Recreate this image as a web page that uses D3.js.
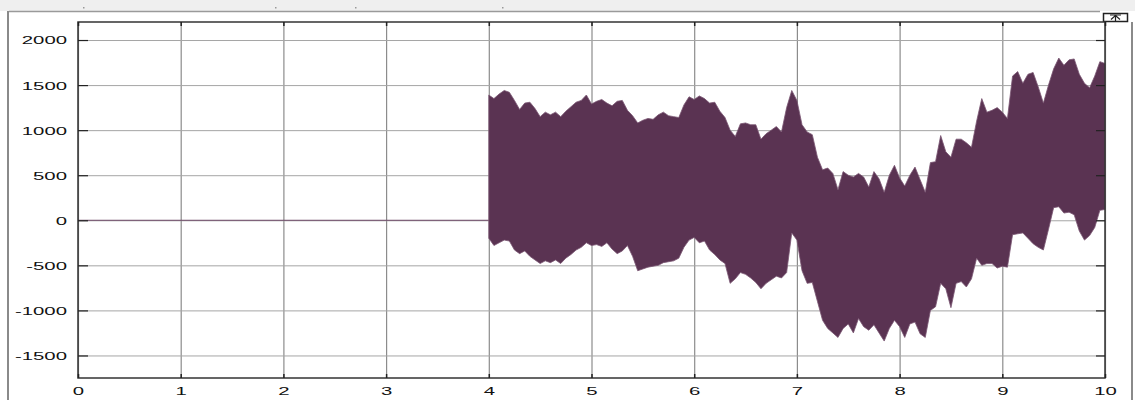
<!DOCTYPE html>
<html><head><meta charset="utf-8">
<script src="https://cdn.jsdelivr.net/npm/d3@7"></script>
<style>
html,body{margin:0;padding:0;background:#fff;}
svg{display:block;}
</style></head>
<body><svg id="c" width="1135" height="400"></svg>
<script>
// ---- data ----
const xTicks = [0,1,2,3,4,5,6,7,8,9,10];
const yTicks = [-1500,-1000,-500,0,500,1000,1500,2000];
const yTickLabels = ["-1500","-1000","-500","0","500","1000","1500","2000"];
const xDomain = [0,10];
const yDomain = [-1750,2200];
// silent segment (value 0) before the signal starts
const silentTimes = [0,4];
const silentValues = [0,0];
// signal envelope, sampled every 0.05 s from 4.00 to 10.00
const envTimes = d3.range(121).map(i => +(4 + i*0.05).toFixed(2));
const envUpper = [1390,1350,1400,1440,1420,1330,1230,1300,1310,1240,
 1150,1200,1170,1200,1150,1210,1260,1310,1330,1390,
 1290,1320,1340,1300,1270,1320,1330,1220,1160,1080,
 1110,1130,1120,1170,1200,1160,1150,1140,1280,1370,
 1340,1380,1350,1300,1310,1210,1140,1000,930,1070,
 1080,1060,1060,900,960,1000,1040,980,1250,1440,
 1330,1060,980,950,700,560,580,520,340,540,
 500,480,520,480,370,540,460,310,500,610,
 470,380,500,590,450,310,640,650,940,760,
 700,900,900,860,810,1100,1350,1200,1220,1250,
 1200,1130,1600,1650,1520,1620,1640,1480,1300,1500,
 1680,1800,1720,1780,1790,1620,1520,1470,1600,1760,
 1740];
const envLower = [-200,-280,-250,-220,-230,-330,-370,-340,-400,-440,
 -480,-450,-470,-440,-480,-420,-380,-330,-300,-250,
 -280,-270,-290,-250,-320,-370,-340,-280,-400,-560,
 -540,-520,-510,-500,-470,-460,-450,-420,-300,-220,
 -190,-250,-230,-330,-380,-440,-480,-700,-650,-580,
 -600,-640,-690,-760,-700,-660,-620,-640,-580,-140,
 -220,-560,-700,-690,-900,-1110,-1200,-1250,-1300,-1200,
 -1150,-1250,-1090,-1180,-1220,-1160,-1250,-1340,-1200,-1110,
 -1180,-1300,-1150,-1130,-1260,-1300,-1000,-960,-700,-760,
 -970,-700,-680,-740,-650,-420,-500,-480,-480,-530,
 -510,-520,-160,-150,-140,-200,-260,-300,-330,-100,
 140,150,80,90,60,-120,-220,-170,-80,110,
 120];

// ---- layout ----
const svg = d3.select("#c");
const L = 78, R = 1105, T = 22, B = 378;
const x = d3.scaleLinear().domain(xDomain).range([L, R]);
const y = d3.scaleLinear().domain(yDomain).range([B, T]);
const SX = 1.85; // horizontal stretch of the tick labels

// window chrome
svg.append("rect").attr("x",0).attr("y",0).attr("width",1135).attr("height",11).attr("fill","#efefef");
svg.append("line").attr("x1",9).attr("x2",1100).attr("y1",11.5).attr("y2",11.5).attr("stroke","#9a9a9a").attr("stroke-width",1.5);
svg.append("line").attr("x1",8).attr("x2",8).attr("y1",11).attr("y2",400).attr("stroke","#8a8a8a").attr("stroke-width",2);
svg.append("line").attr("x1",1132).attr("x2",1132).attr("y1",22).attr("y2",400).attr("stroke","#8a8a8a").attr("stroke-width",2);
[83,275,355,502].forEach(px => svg.append("rect").attr("x",px).attr("y",7).attr("width",1.5).attr("height",1.5).attr("fill","#999"));
// small button at top right
const btn = svg.append("g");
btn.append("rect").attr("x",1103.5).attr("y",13.5).attr("width",24).attr("height",8).attr("fill","#fff").attr("stroke","#222").attr("stroke-width",1.5);
btn.append("path").attr("d","M1111,19.5 L1115.5,15.5 L1120,19.5 M1115.5,15.5 L1115.5,21 M1110,15 L1121,15").attr("fill","none").attr("stroke","#222").attr("stroke-width",1.2);

// plot background
svg.append("rect").attr("x",L).attr("y",T).attr("width",R-L).attr("height",B-T).attr("fill","#fff");

// grid
svg.append("g").attr("transform",`translate(0,${B})`)
  .call(d3.axisBottom(x).tickValues(xTicks).tickSize(-(B-T)).tickFormat(""))
  .call(g => g.select(".domain").remove())
  .call(g => g.selectAll("line").attr("stroke","#8c8c8c").attr("stroke-width",1.2));
svg.append("g").attr("transform",`translate(${L},0)`)
  .call(d3.axisLeft(y).tickValues(yTicks).tickSize(-(R-L)).tickFormat(""))
  .call(g => g.select(".domain").remove())
  .call(g => g.selectAll("line").attr("stroke","#a5a5a5").attr("stroke-width",1));

// silent zero line
svg.append("path")
  .datum(silentTimes.map((t,i)=>[t,silentValues[i]]))
  .attr("d", d3.line().x(d=>x(d[0])).y(d=>y(d[1])))
  .attr("fill","none").attr("stroke","#6d4866").attr("stroke-width",1);

// signal envelope
const env = envTimes.map((t,i)=>({t, hi: envUpper[i], lo: envLower[i]}));
const area = d3.area().x(d=>x(d.t)).y0(d=>y(d.lo)).y1(d=>y(d.hi)).curve(d3.curveLinear);
svg.append("path").datum(env).attr("d", area)
  .attr("fill","#5a3352").attr("stroke","#7a5572").attr("stroke-width",0.8);

// frame
svg.append("rect").attr("x",L).attr("y",T).attr("width",R-L).attr("height",B-T)
  .attr("fill","none").attr("stroke","#333").attr("stroke-width",1.5);

// y axis left
svg.append("g").attr("transform",`translate(${L},0)`)
  .call(d3.axisLeft(y).tickValues(yTicks).tickSize(-10).tickFormat((d,i)=>yTickLabels[i]))
  .call(g => g.select(".domain").remove())
  .call(g => g.selectAll("line").attr("stroke","#222").attr("stroke-width",1.2))
  .call(g => g.selectAll("text").attr("x",0).attr("dy","0.36em")
      .attr("transform",`translate(-11,0) scale(${SX},1)`)
      .attr("font-family","'Liberation Sans', Arial, sans-serif").attr("font-size",11).attr("fill","#111"));
// y axis right ticks
svg.append("g").attr("transform",`translate(${R},0)`)
  .call(d3.axisRight(y).tickValues(yTicks).tickSize(-9).tickFormat(""))
  .call(g => g.select(".domain").remove())
  .call(g => g.selectAll("line").attr("stroke","#222").attr("stroke-width",1.2));
// x axis bottom
svg.append("g").attr("transform",`translate(0,${B})`)
  .call(d3.axisBottom(x).tickValues(xTicks).tickSize(-4).tickFormat(d=>String(d)))
  .call(g => g.select(".domain").remove())
  .call(g => g.selectAll("line").attr("stroke","#222").attr("stroke-width",1.5))
  .call(g => g.selectAll("text").attr("y",0).attr("dy",0)
      .attr("transform",`translate(0,17) scale(${SX},1)`)
      .attr("font-family","'Liberation Sans', Arial, sans-serif").attr("font-size",11).attr("fill","#111"));
// x axis top ticks
svg.append("g").attr("transform",`translate(0,${T})`)
  .call(d3.axisTop(x).tickValues(xTicks).tickSize(-4).tickFormat(""))
  .call(g => g.select(".domain").remove())
  .call(g => g.selectAll("line").attr("stroke","#222").attr("stroke-width",1.5));
</script></body></html>
